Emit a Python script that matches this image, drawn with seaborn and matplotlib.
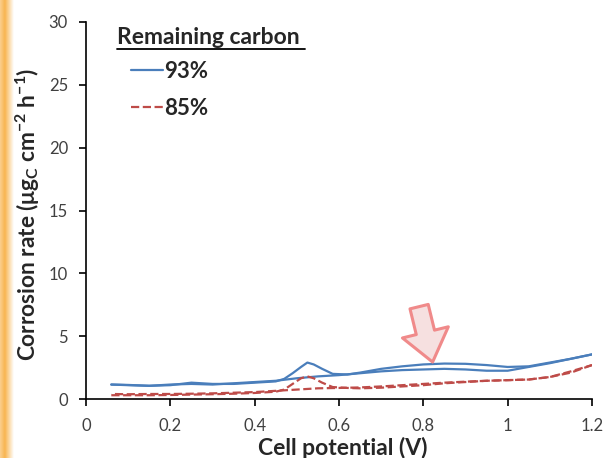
import numpy as np
import pandas as pd
import matplotlib
matplotlib.use("Agg")
import matplotlib.pyplot as plt
import seaborn as sns
from matplotlib.lines import Line2D
from matplotlib.colors import LinearSegmentedColormap

sns.set_theme(style="white")
plt.rcParams['font.family'] = ['Lato', 'DejaVu Sans']
plt.rcParams['mathtext.fontset'] = 'custom'
plt.rcParams['mathtext.rm'] = 'Lato'
plt.rcParams['mathtext.bf'] = 'Lato:bold'

# ---- data ----
x_fwd = [0.06, 0.10, 0.15, 0.20, 0.25, 0.30, 0.35, 0.40, 0.45, 0.47, 0.49, 0.51, 0.525,
         0.54, 0.56, 0.585, 0.62, 0.65, 0.70, 0.75, 0.80, 0.85, 0.90, 0.95, 1.00, 1.05,
         1.10, 1.15, 1.20]
blue_fwd = [1.15, 1.12, 1.05, 1.10, 1.30, 1.20, 1.20, 1.30, 1.40, 1.60, 2.05, 2.55, 2.90,
            2.75, 2.40, 2.00, 1.95, 2.10, 2.40, 2.60, 2.75, 2.82, 2.80, 2.70, 2.55, 2.60,
            2.90, 3.20, 3.55]
red_fwd = [0.30, 0.30, 0.30, 0.32, 0.35, 0.38, 0.42, 0.48, 0.58, 0.75, 1.20, 1.65, 1.80,
           1.65, 1.30, 0.95, 0.88, 0.85, 0.90, 1.00, 1.10, 1.25, 1.35, 1.45, 1.50, 1.55,
           1.75, 2.20, 2.70]

x_rev = [1.20, 1.15, 1.10, 1.05, 1.00, 0.95, 0.90, 0.85, 0.80, 0.75, 0.70, 0.65, 0.60,
         0.55, 0.50, 0.45, 0.40, 0.35, 0.30, 0.25, 0.20, 0.15, 0.10, 0.06]
blue_rev = [3.55, 3.20, 2.85, 2.55, 2.25, 2.25, 2.35, 2.40, 2.35, 2.30, 2.20, 2.05, 1.90,
            1.80, 1.65, 1.45, 1.35, 1.25, 1.15, 1.20, 1.15, 1.05, 1.10, 1.15]
red_rev = [2.70, 2.10, 1.75, 1.55, 1.50, 1.45, 1.38, 1.30, 1.20, 1.10, 1.00, 0.92, 0.88,
           0.85, 0.75, 0.65, 0.55, 0.50, 0.45, 0.42, 0.40, 0.40, 0.38, 0.40]

series_labels = ["93%", "85%"]
legend_title = "Remaining carbon"
x_ticks = [0, 0.2, 0.4, 0.6, 0.8, 1, 1.2]
x_ticklabels = ["0", "0.2", "0.4", "0.6", "0.8", "1", "1.2"]
y_ticks = [0, 5, 10, 15, 20, 25, 30]

BLUE = "#4a7ebb"
RED = "#be4b48"
TICKC = "#404040"

fig = plt.figure(figsize=(6.06, 4.58), dpi=100)

# orange strip at left edge
ax_bg = fig.add_axes([0, 0, 0.022, 1])
grad = np.linspace(0, 1, 64)[None, :]
cm = LinearSegmentedColormap.from_list("o", [(0, "#fbcf8e"), (0.35, "#f8b550"), (1, "#ffffff")])
ax_bg.imshow(grad, aspect="auto", cmap=cm, extent=[0, 1, 0, 1])
ax_bg.axis("off")

ax = fig.add_axes([86/606, 1-399/458, (592-86)/606, (399-22)/458])

def draw(xs, ys, color, dashed):
    df = pd.DataFrame({"x": xs, "y": ys})
    sns.lineplot(data=df, x="x", y="y", ax=ax, sort=False, estimator=None,
                 color=color, lw=1.6, linestyle="--" if dashed else "-")

draw(x_fwd, blue_fwd, BLUE, False)
draw(x_rev, blue_rev, BLUE, False)
draw(x_fwd, red_fwd, RED, True)
draw(x_rev, red_rev, RED, True)

ax.set_xlim(0, 1.2)
ax.set_ylim(0, 30)
ax.set_xticks(x_ticks)
ax.set_xticklabels(x_ticklabels)
ax.set_yticks(y_ticks)
for s in ["top", "right"]:
    ax.spines[s].set_visible(False)
for s in ["left", "bottom"]:
    ax.spines[s].set_color("black")
    ax.spines[s].set_linewidth(1.2)
ax.tick_params(axis="both", direction="out", length=5, width=1.2, color="black",
               labelsize=12, labelcolor=TICKC, left=True, bottom=True)
ax.tick_params(axis="y", pad=8)
ax.tick_params(axis="x", pad=9)

ax.set_xlabel("Cell potential (V)", fontsize=16.5, fontweight="bold")
ax.xaxis.set_label_coords((343-86)/506, -0.1)
ax.set_ylabel(r"Corrosion rate ($\mathbf{\mu g_C}$ $\mathbf{cm^{-2}}$ $\mathbf{h^{-1}}$)",
              fontsize=16.3, fontweight="bold")
ax.yaxis.set_label_coords((42-86)/506, 0.49)

# legend
handles = [Line2D([0], [0], color=BLUE, lw=1.6, ls="-"),
           Line2D([0], [0], color=RED, lw=1.6, ls="--")]
leg = ax.legend(handles, series_labels, loc="upper left",
                bbox_to_anchor=((122-86)/506, (399-52)/377), frameon=False,
                handlelength=1.45, handletextpad=0.05, labelspacing=0.72,
                borderaxespad=0, prop={"weight": "bold", "size": 16})

fig.text(117/606, 1-37/458, legend_title, fontsize=16.5, fontweight="bold",
         va="center", ha="left")
fig.add_artist(Line2D([117/606, 305/606], [1-49/458, 1-49/458], color="black", lw=1.3,
                      transform=fig.transFigure))

# arrow
ax.annotate("", xy=(0.822, 2.94), xytext=(0.790, 7.35),
            arrowprops=dict(arrowstyle="simple,head_width=34,head_length=22,tail_width=13.5",
                            mutation_scale=1, fc="#f6e0e0", ec="#f08a8a", lw=2.2,
                            shrinkA=0, shrinkB=0))

fig.savefig("out.png", dpi=100)
